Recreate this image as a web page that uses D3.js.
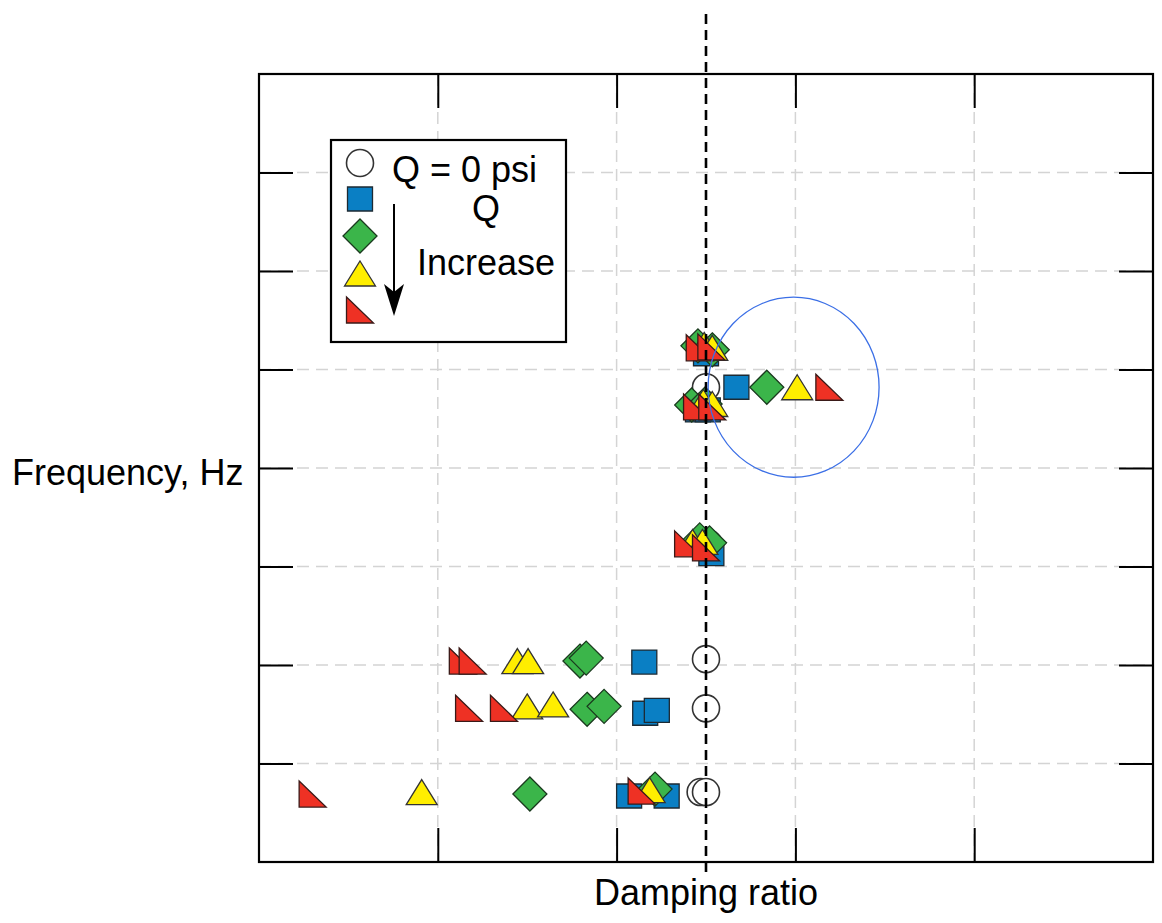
<!DOCTYPE html>
<html>
<head>
<meta charset="utf-8">
<script src="https://cdn.jsdelivr.net/npm/d3@7"></script>
<style>
  html, body { margin: 0; padding: 0; background: #fff; }
  svg { display: block; font-family: "Liberation Sans", Arial, Helvetica, sans-serif; }
</style>
</head>
<body>
<svg id="chart" width="1162" height="923"></svg>
<script>
// Damping ratio (%) and frequency (Hz) of each mode, one array per pressure level Q.
const xTicks = [-3, -1, 1, 3];
const yTicks = [1, 2, 3, 4, 5, 6, 7];

const qZero = [
  [0.00, 4.82], [0.03, 3.23], [0.00, 2.06], [0.00, 1.56], [-0.06, 0.71], [0.00, 0.71]
];
const qLevel1 = [
  [0.34, 4.82], [0.00, 5.16], [-0.09, 4.59], [0.02, 4.59], [0.01, 3.19], [0.06, 3.13],
  [-0.69, 2.03], [-0.68, 1.51], [-0.55, 1.54], [-0.86, 0.67], [-0.44, 0.67]
];
const qLevel2 = [
  [0.68, 4.82], [-0.09, 5.24], [0.07, 5.20], [-0.16, 4.64], [-0.01, 4.65], [-0.07, 3.27],
  [0.04, 3.24], [-1.41, 2.04], [-1.34, 2.07], [-1.33, 1.55], [-1.14, 1.58], [-1.97, 0.69],
  [-0.57, 0.74]
];
const qLevel3 = [
  [1.02, 4.82], [-0.02, 5.25], [0.07, 5.22], [-0.03, 4.67], [0.07, 4.65], [-0.15, 3.25],
  [-0.04, 3.25], [-2.11, 2.04], [-1.99, 2.04], [-2.00, 1.58], [-1.71, 1.60], [-3.18, 0.71],
  [-0.63, 0.73]
];
const qLevel4 = [
  [1.38, 4.82], [-0.07, 5.22], [0.06, 5.23], [-0.10, 4.62], [0.07, 4.62], [-0.20, 3.23],
  [0.00, 3.19], [-2.72, 2.04], [-2.61, 2.04], [-2.65, 1.56], [-2.26, 1.56], [-4.40, 0.69],
  [-0.72, 0.72]
];
const legendLabels = ["Q = 0 psi", "Q", "Increase"];
const highlightCenter = [0.98, 4.82];
const highlightRadius = [0.956, 0.914];

const svg = d3.select("#chart");
const m = { left: 259, top: 74, right: 1153, bottom: 862 };
const x = d3.scaleLinear().domain([-5, 5]).range([m.left, m.right]);
const y = d3.scaleLinear().domain([0, 8]).range([m.bottom, m.top]);

// Marker shapes, centred on (0,0)
const shapes = {
  circle: { fill: "#ffffff", stroke: "#333", d: () => "M-13.5,0A13.5,13.5 0 1,0 13.5,0A13.5,13.5 0 1,0 -13.5,0Z" },
  square: { fill: "#0a7fc4", stroke: "#1d2a33", d: () => "M-12.5,-12M12.5,-12L12.5,12L-12.5,12L-12.5,-12Z" },
  diamond: { fill: "#3bb54a", stroke: "#1a3a1e", d: () => "M0,-17L17,0L0,17L-17,0Z" },
  triangle: { fill: "#ffee00", stroke: "#333", d: () => "M0,-12.5L15.5,12.5L-15.5,12.5Z" },
  rightTri: { fill: "#ee3124", stroke: "#3a1a18", d: () => "M-13.5,-13L13.5,13L-13.5,13Z" }
};
shapes.square.d = () => "M-12.5,-12L12.5,-12L12.5,12L-12.5,12Z";

// Grid (light dashed)
const grid = svg.append("g");
grid.selectAll("line.vx").data(xTicks).join("line")
  .attr("x1", d => x(d)).attr("x2", d => x(d))
  .attr("y1", m.top).attr("y2", m.bottom)
  .attr("stroke", "#d4d4d4").attr("stroke-width", 1.5).attr("stroke-dasharray", "12,7");
grid.selectAll("line.hy").data(yTicks).join("line")
  .attr("x1", m.left).attr("x2", m.right)
  .attr("y1", d => y(d)).attr("y2", d => y(d))
  .attr("stroke", "#d4d4d4").attr("stroke-width", 1.5).attr("stroke-dasharray", "12,7");

// Inward ticks on all four sides
const tickLen = 34;
const axes = svg.append("g").attr("stroke", "#000").attr("stroke-width", 2);
axes.append("g").attr("transform", `translate(0,${m.bottom})`)
  .call(d3.axisTop(x).tickValues(xTicks).tickSize(tickLen).tickFormat(""));
axes.append("g").attr("transform", `translate(0,${m.top})`)
  .call(d3.axisBottom(x).tickValues(xTicks).tickSize(tickLen).tickFormat(""));
axes.append("g").attr("transform", `translate(${m.left},0)`)
  .call(d3.axisRight(y).tickValues(yTicks).tickSize(tickLen).tickFormat(""));
axes.append("g").attr("transform", `translate(${m.right},0)`)
  .call(d3.axisLeft(y).tickValues(yTicks).tickSize(tickLen).tickFormat(""));
axes.selectAll(".domain").remove();
axes.selectAll(".tick line").attr("stroke", "#000").attr("stroke-width", 2);

// Frame
svg.append("rect")
  .attr("x", m.left).attr("y", m.top)
  .attr("width", m.right - m.left).attr("height", m.bottom - m.top)
  .attr("fill", "none").attr("stroke", "#000").attr("stroke-width", 2.2);

// Data markers
const seriesList = [
  { data: qZero, shape: "circle" },
  { data: qLevel1, shape: "square" },
  { data: qLevel2, shape: "diamond" },
  { data: qLevel3, shape: "triangle" },
  { data: qLevel4, shape: "rightTri" }
];
const marks = svg.append("g");
seriesList.forEach(s => {
  const sh = shapes[s.shape];
  marks.append("g").selectAll("path").data(s.data).join("path")
    .attr("transform", d => `translate(${x(d[0])},${y(d[1])})`)
    .attr("d", sh.d())
    .attr("fill", sh.fill)
    .attr("stroke", sh.stroke)
    .attr("stroke-width", s.shape === "circle" ? 1.6 : 1.3)
    .attr("stroke-linejoin", "miter");
});

// Zero-damping reference line
svg.append("line")
  .attr("x1", x(0)).attr("x2", x(0))
  .attr("y1", 14).attr("y2", 872)
  .attr("stroke", "#000").attr("stroke-width", 2.6).attr("stroke-dasharray", "10,6");

// Highlight of the mode that moves with Q
svg.append("ellipse")
  .attr("cx", x(highlightCenter[0])).attr("cy", y(highlightCenter[1]))
  .attr("rx", x(highlightRadius[0]) - x(0))
  .attr("ry", y(0) - y(highlightRadius[1]))
  .attr("fill", "none").attr("stroke", "#3b6fe6").attr("stroke-width", 1.3);

// Legend
const lg = svg.append("g");
lg.append("rect").attr("x", 331).attr("y", 140).attr("width", 235).attr("height", 202)
  .attr("fill", "#fff").attr("stroke", "#000").attr("stroke-width", 2.2);
const legendRows = ["circle", "square", "diamond", "triangle", "rightTri"];
const legendY = [163, 199, 236, 273.5, 310];
legendRows.forEach((k, i) => {
  const sh = shapes[k];
  lg.append("path").attr("transform", `translate(360,${legendY[i]})`)
    .attr("d", sh.d()).attr("fill", sh.fill).attr("stroke", sh.stroke)
    .attr("stroke-width", k === "circle" ? 1.6 : 1.3);
});
lg.append("text").attr("x", 392).attr("y", 182).attr("font-size", 36).text(legendLabels[0]);
lg.append("text").attr("x", 486).attr("y", 221).attr("font-size", 36).attr("text-anchor", "middle").text(legendLabels[1]);
lg.append("text").attr("x", 486).attr("y", 275).attr("font-size", 36).attr("text-anchor", "middle").text(legendLabels[2]);
lg.append("line").attr("x1", 394).attr("x2", 394).attr("y1", 204).attr("y2", 295)
  .attr("stroke", "#000").attr("stroke-width", 2);
lg.append("path").attr("d", "M394,316L384,284L394,292L404,284Z").attr("fill", "#000");

// Axis titles
svg.append("text").attr("x", 12).attr("y", 485).attr("font-size", 36).text("Frequency, Hz");
svg.append("text").attr("x", x(0)).attr("y", 905).attr("font-size", 36)
  .attr("text-anchor", "middle").text("Damping ratio");
</script>
</body>
</html>
